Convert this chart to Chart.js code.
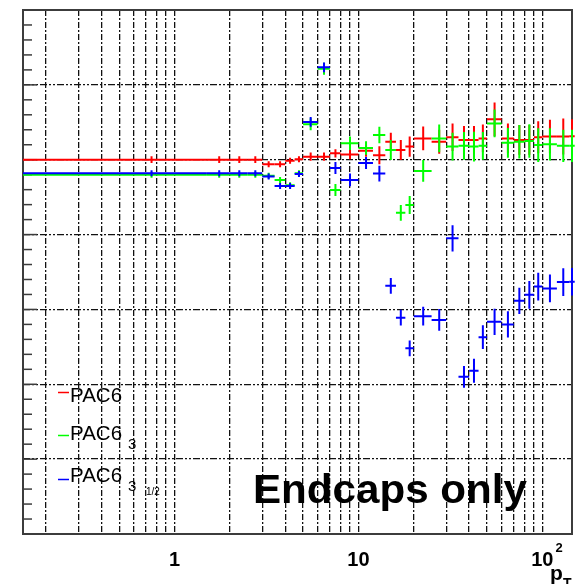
<!DOCTYPE html>
<html>
<head>
<meta charset="utf-8">
<script src="https://cdn.jsdelivr.net/npm/chart.js@4.4.1/dist/chart.umd.min.js"></script>
<style>
  body { margin: 0; background: #fff; }
</style>
</head>
<body>
<canvas id="grafico-pac" width="577" height="584"></canvas>
<script>
// bordes y centros de los bins de pT
const binEdges = [0, 1.5, 2, 2.5, 3, 3.5, 4, 4.5, 5, 6, 7, 8, 10, 12, 14, 16, 18, 20, 25, 30, 35, 40, 45, 50, 60, 70, 80, 90, 100, 120, 140, 150];
const binCenters = [0.75, 1.75, 2.25, 2.75, 3.25, 3.75, 4.25, 4.75, 5.5, 6.5, 7.5, 9, 11, 13, 15, 17, 19, 22.5, 27.5, 32.5, 37.5, 42.5, 47.5, 55, 65, 75, 85, 95, 110, 130, 145];

const pac6 = [1.000, 1.000, 1.000, 1.000, 0.988, 0.988, 0.997, 1.001, 1.008, 1.008, 1.017, 1.014, 1.024, 1.012, 1.048, 1.026, 1.035, 1.057, 1.048, 1.060, 1.053, 1.053, 1.057, 1.108, 1.057, 1.053, 1.053, 1.060, 1.062, 1.062, 1.063];
const pac6Err = [0.009, 0.009, 0.009, 0.009, 0.008, 0.008, 0.008, 0.008, 0.011, 0.011, 0.011, 0.013, 0.016, 0.024, 0.024, 0.027, 0.027, 0.032, 0.032, 0.037, 0.037, 0.037, 0.037, 0.045, 0.040, 0.040, 0.040, 0.043, 0.045, 0.048, 0.045];

const pac6_3 = [0.960, 0.960, 0.960, 0.960, 0.957, 0.946, 0.932, 0.964, 1.095, 1.243, 0.919, 1.044, 1.031, 1.066, 1.026, 0.858, 0.879, 0.970, 1.057, 1.035, 1.037, 1.035, 1.037, 1.097, 1.045, 1.048, 1.050, 1.039, 1.041, 1.037, 1.037];
const pac6_3Err = [0.008, 0.008, 0.008, 0.008, 0.008, 0.008, 0.008, 0.008, 0.016, 0.016, 0.016, 0.018, 0.018, 0.022, 0.027, 0.021, 0.024, 0.029, 0.037, 0.037, 0.037, 0.040, 0.037, 0.037, 0.040, 0.045, 0.045, 0.045, 0.043, 0.043, 0.043];

const pac6_3h = [0.964, 0.964, 0.964, 0.964, 0.955, 0.930, 0.930, 0.962, 1.101, 1.247, 0.978, 0.946, 0.991, 0.963, 0.663, 0.578, 0.496, 0.582, 0.572, 0.790, 0.420, 0.436, 0.526, 0.567, 0.560, 0.623, 0.639, 0.661, 0.656, 0.673, 0.674];
const pac6_3hErr = [0.008, 0.008, 0.008, 0.008, 0.008, 0.008, 0.008, 0.008, 0.013, 0.013, 0.016, 0.017, 0.016, 0.021, 0.021, 0.021, 0.021, 0.025, 0.029, 0.035, 0.029, 0.032, 0.032, 0.035, 0.035, 0.035, 0.037, 0.037, 0.037, 0.037, 0.037];

// marcas del eje x (log) y etiquetas
const xGridTicks = [0.2, 0.3, 0.4, 0.5, 0.6, 0.7, 0.8, 0.9, 1, 2, 3, 4, 5, 6, 7, 8, 9, 10, 20, 30, 40, 50, 60, 70, 80, 90, 100];
const xLabelValues = [1, 10, 100];
const xLabelBases = ["1", "10", "10"];
const xLabelExps = ["", "", "2"];

function puntos(valores, errores) {
  return binCenters.map((x, i) => ({
    x: x,
    y: valores[i],
    err: errores[i],
    lo: binEdges[i],
    hi: binEdges[i + 1],
  }));
}

const marco = {
  id: "marco",
  beforeDatasetsDraw(chart) {
    const { ctx, chartArea: a, scales } = chart;
    ctx.save();
    ctx.strokeStyle = "#3c3c3c";
    ctx.lineWidth = 2;
    ctx.strokeRect(a.left, a.top, a.right - a.left, a.bottom - a.top);

    // ticks menores del eje y, hacia dentro
    ctx.lineWidth = 1.5;
    for (let k = 0; k <= 35; k++) {
      let v = k * 0.04;
      let py = scales.y.getPixelForValue(v);
      let largo = k % 5 === 0 ? 14 : 9;
      ctx.beginPath();
      ctx.moveTo(a.left, py);
      ctx.lineTo(a.left + largo, py);
      ctx.stroke();
    }
    ctx.restore();
  },
};

const barrasError = {
  id: "barrasError",
  afterDatasetsDraw(chart) {
    const { ctx, scales } = chart;
    const xs = scales.x;
    const ys = scales.y;
    ctx.save();
    chart.data.datasets.forEach((ds) => {
      ctx.strokeStyle = ds.borderColor;
      ctx.lineWidth = 2;
      ds.data.forEach((p) => {
        let lo = Math.max(p.lo, xs.min);
        let x1 = xs.getPixelForValue(lo);
        let x2 = xs.getPixelForValue(p.hi);
        let xc = xs.getPixelForValue(p.x);
        let yc = ys.getPixelForValue(p.y);
        let yt = ys.getPixelForValue(p.y + p.err);
        let yb = ys.getPixelForValue(p.y - p.err);
        ctx.beginPath();
        ctx.moveTo(x1, yc);
        ctx.lineTo(x2, yc);
        ctx.moveTo(xc, yt);
        ctx.lineTo(xc, yb);
        ctx.stroke();
      });
    });
    ctx.restore();
  },
};

const textos = {
  id: "textos",
  afterDraw(chart) {
    const { ctx, scales } = chart;
    ctx.save();
    ctx.fillStyle = "#000";
    ctx.textBaseline = "alphabetic";

    // etiquetas del eje x
    xLabelValues.forEach((v, i) => {
      let px = scales.x.getPixelForValue(v);
      ctx.font = "bold 20px 'Liberation Sans', Arial, sans-serif";
      ctx.textAlign = "center";
      ctx.fillText(xLabelBases[i], px, 566);
      if (xLabelExps[i]) {
        let w = ctx.measureText(xLabelBases[i]).width;
        ctx.font = "bold 13px 'Liberation Sans', Arial, sans-serif";
        ctx.textAlign = "left";
        ctx.fillText(xLabelExps[i], px + w / 2 + 2, 552);
      }
    });

    // titulo eje x p_T
    ctx.textAlign = "left";
    ctx.font = "bold 21px 'Liberation Sans', Arial, sans-serif";
    ctx.fillText("p", 550, 580);
    ctx.font = "bold 14px 'Liberation Sans', Arial, sans-serif";
    ctx.fillText("T", 563, 588);

    // leyenda
    const leyenda = [
      { color: "#ff0000", yl: 392.5, yb: 401.5 },
      { color: "#00ff00", yl: 435.5, yb: 439.5 },
      { color: "#0000ff", yl: 479.5, yb: 481.5 },
    ];
    leyenda.forEach((e, i) => {
      ctx.strokeStyle = e.color;
      ctx.lineWidth = 1.5;
      ctx.beginPath();
      ctx.moveTo(58, e.yl);
      ctx.lineTo(69, e.yl);
      ctx.stroke();
      ctx.font = "20.5px 'Liberation Sans', Arial, sans-serif";
      ctx.fillText("PAC6", 70, e.yb);
      if (i > 0) {
        ctx.font = "15px 'Liberation Sans', Arial, sans-serif";
        ctx.fillText("3", 128, e.yb + 9);
      }
      if (i === 2) {
        ctx.font = "10px 'Liberation Sans', Arial, sans-serif";
        ctx.fillText("1/2", 146, e.yb + 13);
      }
    });

    // texto grande, ajustado al ancho del original
    ctx.font = "bold 40px 'Liberation Sans', Arial, sans-serif";
    let ancho = ctx.measureText("Endcaps only").width;
    ctx.translate(253, 503);
    ctx.scale(274 / ancho, 1);
    ctx.fillText("Endcaps only", 0, 0);
    ctx.restore();
  },
};

new Chart(document.getElementById("grafico-pac"), {
  type: "scatter",
  data: {
    datasets: [
      { label: "PAC6", data: puntos(pac6, pac6Err), borderColor: "#ff0000", pointRadius: 0 },
      { label: "PAC6_3", data: puntos(pac6_3, pac6_3Err), borderColor: "#00ff00", pointRadius: 0 },
      { label: "PAC6_3_1/2", data: puntos(pac6_3h, pac6_3hErr), borderColor: "#0000ff", pointRadius: 0 },
    ],
  },
  options: {
    responsive: false,
    animation: false,
    layout: { padding: { left: 23, top: 10, right: 5, bottom: 50 } },
    plugins: { legend: { display: false }, tooltip: { enabled: false } },
    scales: {
      x: {
        type: "logarithmic",
        min: 0.15,
        max: 145,
        afterBuildTicks(axis) {
          axis.ticks = xGridTicks.map((v) => ({ value: v }));
        },
        ticks: { display: false },
        border: { display: false, dash: [6, 2, 2, 2] },
        grid: { color: "#111", lineWidth: 1.3, drawTicks: false },
      },
      y: {
        min: 0,
        max: 1.4,
        ticks: { display: false, stepSize: 0.2 },
        border: { display: false, dash: [7, 2, 2, 2, 2, 2] },
        grid: { color: "#111", lineWidth: 1.3, drawTicks: false },
      },
    },
  },
  plugins: [marco, barrasError, textos],
});
</script>
</body>
</html>
